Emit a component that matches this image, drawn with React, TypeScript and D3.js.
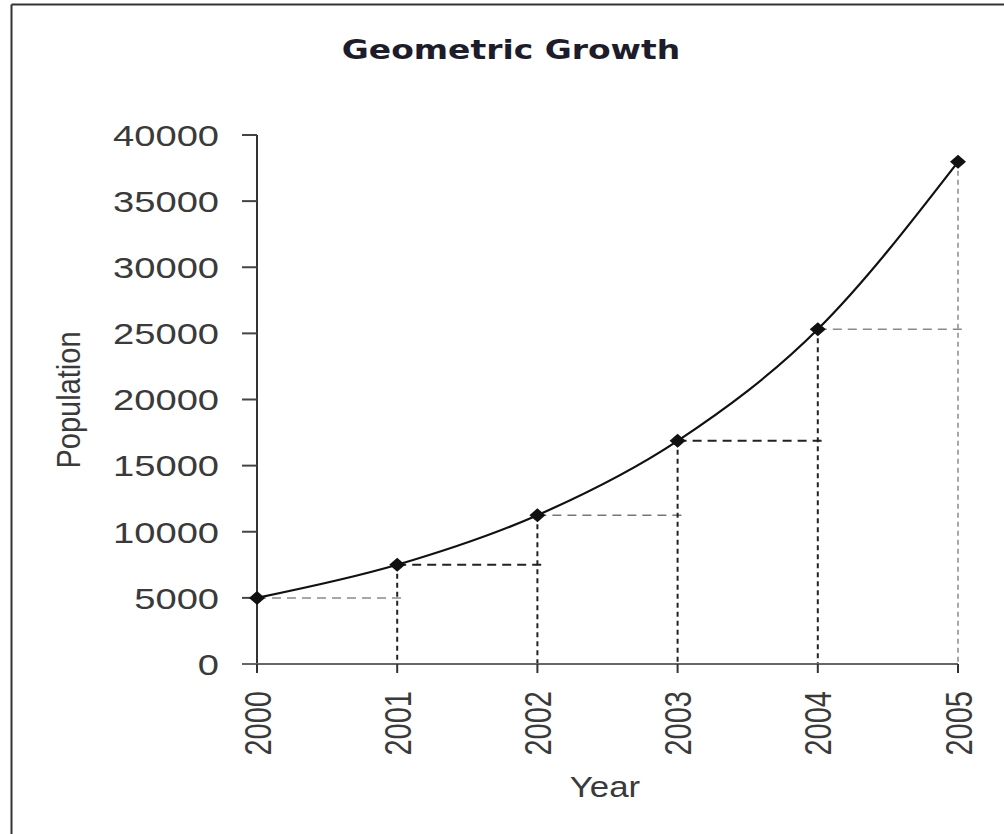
import * as d3 from 'd3';

const years = [2000, 2001, 2002, 2003, 2004, 2005];
const population = [5000, 7500, 11250, 16875, 25313, 37969];
const yTicks = [0, 5000, 10000, 15000, 20000, 25000, 30000, 35000, 40000];

const W = 1004;
const H = 834;
const FONT = '"Liberation Sans", Arial, sans-serif';
// the reference is stretched sideways, so text is widened to match
const SX = 1.27;

export default function App() {
  const x = d3.scaleLinear().domain([2000, 2005]).range([257, 958]);
  const y = d3.scaleLinear().domain([0, 40000]).range([664, 135]);
  const pts = years.map((yr, i) => ({ yr, v: population[i] }));

  const line = d3
    .line<{ yr: number; v: number }>()
    .x(d => x(d.yr))
    .y(d => y(d.v))
    .curve(d3.curveMonotoneX);

  const hColors = ['#8a8a8a', '#222', '#777', '#222', '#8a8a8a'];
  const vColors = ['#222', '#222', '#222', '#222', '#222', '#8a8a8a'];

  return (
    <svg
      width={W}
      height={H}
      style={{ position: 'absolute', left: 0, top: 0, background: '#fff' }}
    >
      {/* frame (top and left only visible) */}
      <line x1={11.5} x2={W} y1={4.5} y2={4.5} stroke="#333" strokeWidth={2} />
      <line x1={11.5} x2={11.5} y1={4.5} y2={H} stroke="#333" strokeWidth={2} />

      <text
        transform={`translate(511,59) scale(1.22,1)`}
        textAnchor="middle"
        fontFamily='"DejaVu Sans", Verdana, sans-serif'
        fontWeight="bold"
        fontSize={27}
        fill="#1c1c2a"
      >
        Geometric Growth
      </text>

      {/* horizontal dashed guides: from each point to the next year */}
      {pts.slice(0, -1).map((d, i) => (
        <line
          key={'h' + i}
          x1={x(d.yr)}
          x2={x(years[i + 1]) + 6}
          y1={y(d.v)}
          y2={y(d.v)}
          stroke={hColors[i]}
          strokeWidth={hColors[i] === '#222' ? 2 : 1.5}
          strokeDasharray="9,6"
        />
      ))}

      {/* vertical dashed drops */}
      {pts.slice(1).map((d, i) => (
        <line
          key={'v' + i}
          x1={x(d.yr)}
          x2={x(d.yr)}
          y1={y(d.v)}
          y2={y(0)}
          stroke={vColors[i + 1]}
          strokeWidth={vColors[i + 1] === '#222' ? 2 : 1.5}
          strokeDasharray="5,4"
        />
      ))}

      {/* y axis */}
      <line x1={x(2000)} x2={x(2000)} y1={y(40000)} y2={y(0)} stroke="#333" strokeWidth={2} />
      {yTicks.map(t => (
        <g key={t}>
          <line x1={x(2000) - 15} x2={x(2000)} y1={y(t)} y2={y(t)} stroke="#444" strokeWidth={2} />
          <text
            transform={`translate(219,${y(t)}) scale(${SX},1)`}
            dy="0.36em"
            textAnchor="end"
            fontFamily={FONT}
            fontSize={30}
            fill="#3a3a3a"
          >
            {t}
          </text>
        </g>
      ))}

      {/* x axis */}
      <line x1={x(2000) - 15} x2={x(2005)} y1={y(0)} y2={y(0)} stroke="#666" strokeWidth={2} />
      {years.map(yr => (
        <g key={yr}>
          <line x1={x(yr)} x2={x(yr)} y1={y(0)} y2={y(0) + 9} stroke="#333" strokeWidth={2} />
          <text
            transform={`translate(${x(yr)},691) scale(1.3,1) rotate(-90)`}
            dy="0.36em"
            textAnchor="end"
            fontFamily={FONT}
            fontSize={29}
            fill="#3a3a3a"
          >
            {yr}
          </text>
        </g>
      ))}

      <path d={line(pts) ?? ''} fill="none" stroke="#111" strokeWidth={2.2} />

      {pts.map(d => (
        <path
          key={'m' + d.yr}
          transform={`translate(${x(d.yr)},${y(d.v)})`}
          d="M0,-7L8,0L0,7L-8,0Z"
          fill="#111"
        />
      ))}

      <text
        transform="translate(68,400) scale(1.15,1) rotate(-90)"
        dy="0.36em"
        textAnchor="middle"
        fontFamily={FONT}
        fontSize={29}
        fill="#3a3a3a"
      >
        Population
      </text>
      <text
        transform="translate(605,797) scale(1.2,1)"
        textAnchor="middle"
        fontFamily={FONT}
        fontSize={29}
        fill="#3a3a3a"
      >
        Year
      </text>
    </svg>
  );
}
